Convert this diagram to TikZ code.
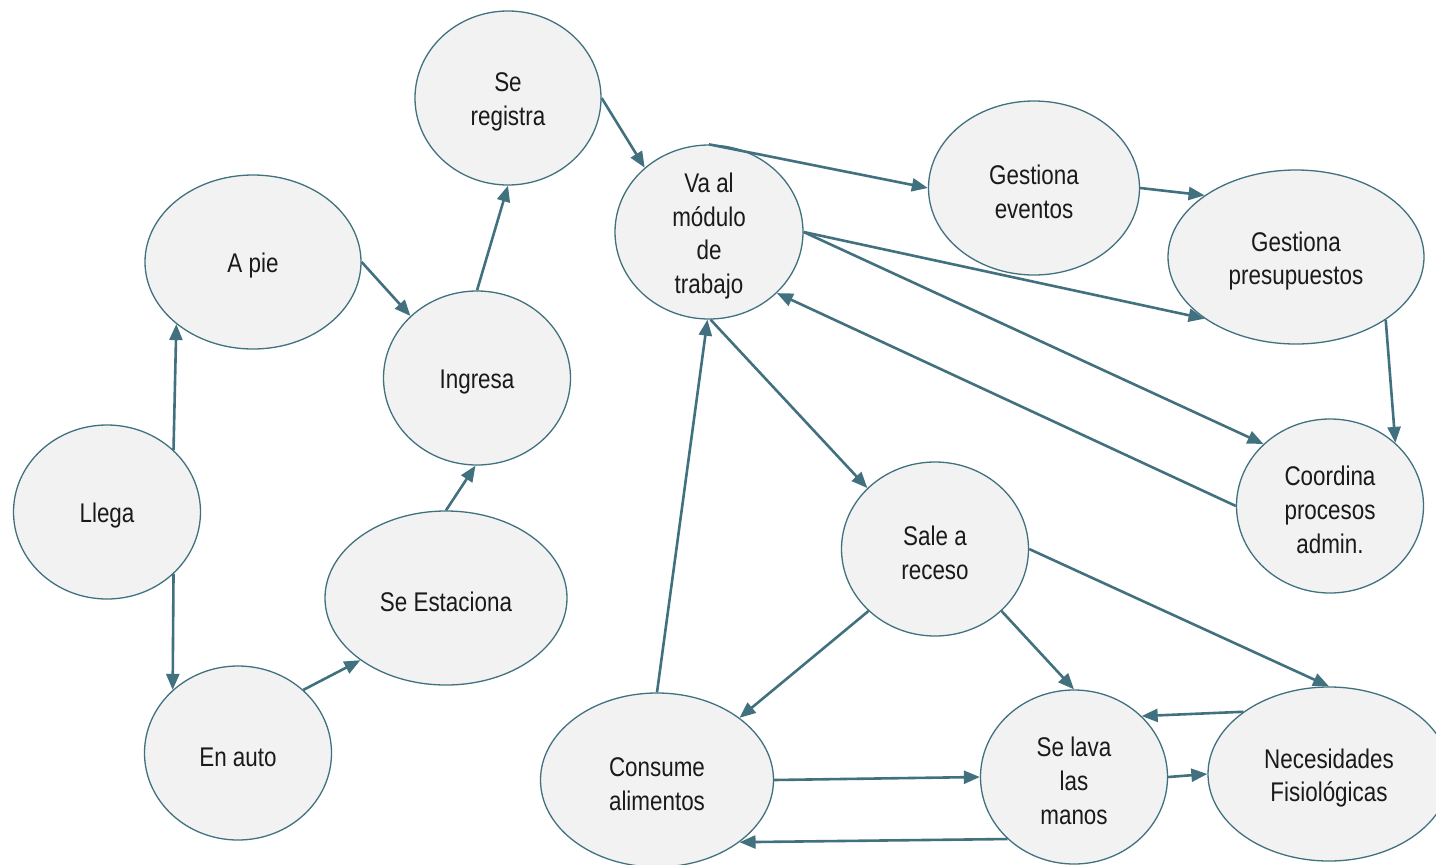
\documentclass[tikz,border=0pt]{standalone}
\usepackage{fontspec}
\setmainfont[FakeStretch=0.83]{Liberation Sans}
\usetikzlibrary{shapes.geometric,arrows.meta}
\definecolor{edgec}{HTML}{41717E}
\definecolor{fillc}{HTML}{F2F2F2}
\definecolor{txtc}{HTML}{1A1A1A}
\tikzset{
  bub/.style={ellipse, draw=edgec, line width=1.3pt, fill=fillc, inner sep=0pt},
  txt/.style={align=center, text=txtc, inner sep=0pt, yshift=-4pt,
    font=\fontsize{27}{33.7}\selectfont},
  lab/.style={label={[txt]center:#1}},
  conn/.style={draw=edgec, line width=2.6pt, -{Triangle[length=16pt,width=13pt]}}
}
\begin{document}
\begin{tikzpicture}[x=1pt,y=-1pt]
\useasboundingbox (0,0) rectangle (1436,865);
\node[bub, minimum width=186pt, minimum height=174pt, lab={Se\\registra}] (reg) at (508,98) {};
\node[bub, minimum width=216pt, minimum height=174pt, lab={A pie}] (pie) at (253,262) {};
\node[bub, minimum width=187pt, minimum height=174pt, lab={Ingresa}] (ing) at (477,378) {};
\node[bub, minimum width=187pt, minimum height=174pt, lab={Llega}] (lle) at (107,512) {};
\node[bub, minimum width=242pt, minimum height=174pt, lab={Se Estaciona}] (est) at (446,598) {};
\node[bub, minimum width=187pt, minimum height=174pt, lab={En auto}] (aut) at (238,753) {};
\node[bub, minimum width=188pt, minimum height=174pt, lab={Va al\\módulo\\de\\trabajo}] (mod) at (709,232) {};
\node[bub, minimum width=211pt, minimum height=174pt, lab={Gestiona\\eventos}] (eve) at (1034,188) {};
\node[bub, minimum width=256pt, minimum height=174pt, lab={Gestiona\\presupuestos}] (pre) at (1296,257) {};
\node[bub, minimum width=187pt, minimum height=174pt, lab={Coordina\\procesos\\admin.}] (coo) at (1330,506) {};
\node[bub, minimum width=187pt, minimum height=174pt, lab={Sale a\\receso}] (sal) at (935,549) {};
\node[bub, minimum width=233pt, minimum height=174pt, lab={Consume\\alimentos}] (con) at (657,780) {};
\node[bub, minimum width=187pt, minimum height=174pt, lab={Se lava\\las\\manos}] (lav) at (1074,777) {};
\node[bub, minimum width=242pt, minimum height=174pt, lab={Necesidades\\Fisiológicas}] (nec) at (1329,774) {};

\draw[conn] (lle.43) -- (pie.-141);
\draw[conn] (lle.-43) -- (aut.136);
\draw[conn] (pie.0) -- (ing.137);
\draw[conn] (aut.44) -- (est.-144.5);
\draw[conn] (est.90) -- (ing.-91);
\draw[conn] (ing.90) -- (reg.-90);
\draw[conn] (reg.0) -- (mod.135);
\draw[conn] (mod.90) -- (eve.180);
\draw[conn] (eve.0) -- (pre.146);
\draw[conn] (mod.0) -- (pre.-146);
\draw[conn] (mod.0) -- (coo.137);
\draw[conn] (pre.-35) -- (coo.44);
\draw[conn] (coo.180) -- (mod.-42);
\draw[conn] (mod.-89) -- (sal.138);
\draw[conn] (con.90) -- (mod.-91);
\draw[conn] (sal.-137) -- (con.37);
\draw[conn] (sal.-43) -- (lav.90);
\draw[conn] (sal.0) -- (nec.90);
\draw[conn] (nec.144) -- (lav.42);
\draw[conn] (con.0) -- (lav.180);
\draw[conn] (lav.0) -- (nec.180);
\draw[conn] (lav.-137) -- (con.-37);
\end{tikzpicture}
\end{document}
